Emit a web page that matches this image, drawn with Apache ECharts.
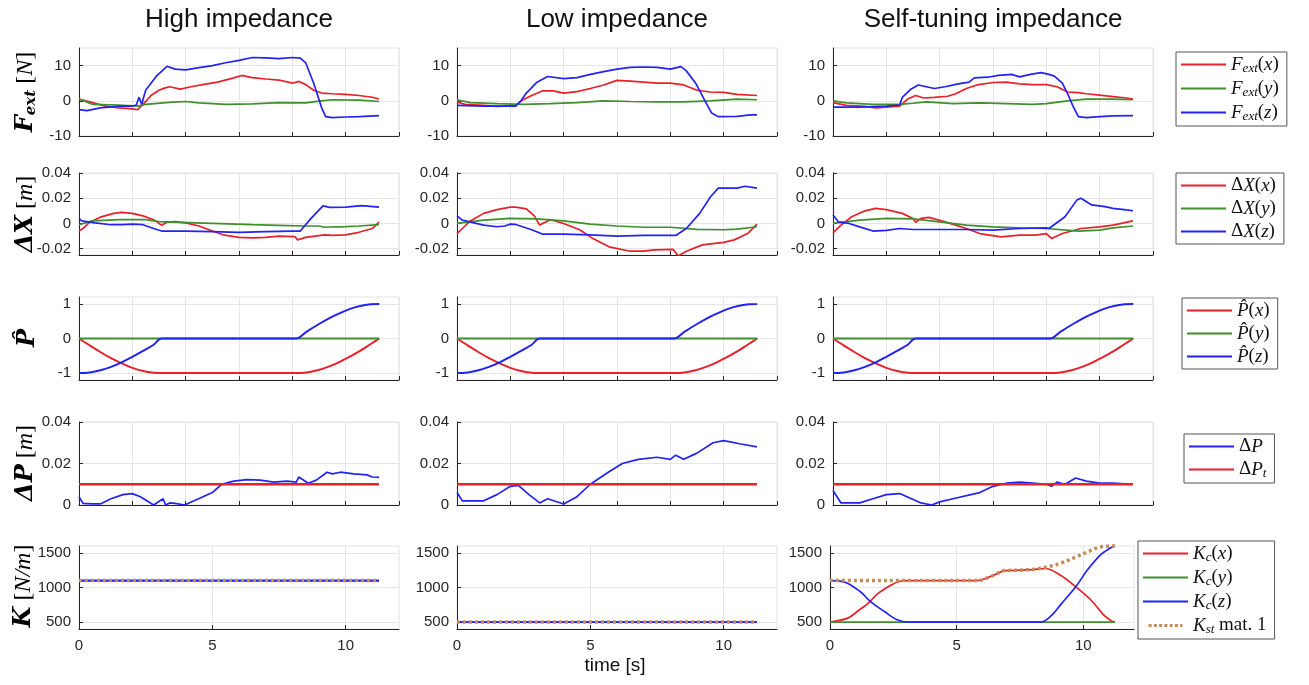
<!DOCTYPE html>
<html>
<head>
<meta charset="utf-8">
<script src="https://cdn.jsdelivr.net/npm/echarts@6/dist/echarts.min.js"></script>
<style>
  html, body { margin: 0; background: #fff; }
  #main { width: 1309px; height: 685px; }
</style>
</head>
<body>
<div id="main"></div>
<script>
// ---- data: [time s, value] ----
// external force F_ext [N]
const hiFx = [[0,0.5],[0.5,-0.5],[1.0,-1.5],[1.5,-2.0],[2.0,-2.3],[2.2,-2.5],[2.4,-1.0],[2.7,1.5],[3.0,3.0],[3.2,3.6],[3.4,4.0],[3.8,3.3],[4.2,4.0],[4.8,4.8],[5.2,5.3],[5.8,6.5],[6.1,7.2],[6.5,6.6],[7.0,6.2],[7.5,5.9],[8.0,5.0],[8.25,5.5],[8.5,4.6],[8.8,3.0],[9.1,2.2],[9.5,2.0],[10.0,1.8],[10.5,1.5],[11.0,1.0],[11.25,0.5]];
const hiFy = [[0,0.5],[0.5,-1.0],[1.5,-1.2],[2.2,-1.5],[2.5,-1.0],[3.5,-0.4],[4.0,-0.2],[4.5,-0.6],[5.5,-1.0],[6.5,-0.9],[7.5,-0.5],[8.5,-0.6],[9.0,-0.1],[9.5,0.3],[10.5,0.2],[11.25,-0.2]];
const hiFz = [[0,-2.5],[0.3,-2.8],[0.8,-2.0],[1.5,-1.5],[2.0,-1.5],[2.15,-1.2],[2.25,1.0],[2.35,-1.0],[2.5,3.0],[2.9,7.0],[3.3,9.8],[3.6,9.0],[4.0,8.8],[4.5,9.4],[5.0,10.0],[5.5,10.8],[6.0,11.5],[6.5,12.3],[7.0,12.2],[7.5,12.0],[8.0,12.3],[8.3,12.1],[8.5,10.8],[8.8,5.0],[9.1,-2.0],[9.25,-4.5],[9.5,-4.8],[10.0,-4.6],[10.5,-4.5],[11.25,-4.2]];
const loFx = [[0,-0.3],[0.3,-1.0],[1.0,-1.3],[1.5,-1.6],[2.2,-1.3],[2.4,0],[2.8,1.5],[3.2,2.8],[3.6,2.8],[4.0,2.2],[4.5,2.6],[5.0,3.5],[5.5,4.5],[6.0,5.8],[6.5,5.6],[7.0,5.3],[7.5,5.0],[8.0,5.0],[8.5,4.5],[9.0,3.0],[9.5,2.5],[10.0,2.4],[10.5,1.8],[11.25,1.5]];
const loFy = [[0,0.3],[0.5,-0.5],[1.5,-0.8],[2.5,-1.0],[3.5,-0.8],[4.5,-0.5],[5.5,0],[6.5,-0.2],[7.5,-0.3],[8.5,-0.3],[9.5,0],[10.5,0.5],[11.25,0.3]];
const loFz = [[0,-1.3],[1.0,-1.5],[2.2,-1.5],[2.4,0],[2.6,2.2],[3.0,5.3],[3.4,6.9],[4.0,6.3],[4.5,6.6],[5.0,7.5],[5.5,8.3],[6.0,9.0],[6.5,9.5],[7.0,9.6],[7.5,9.5],[8.0,9.0],[8.4,9.7],[8.6,8.5],[8.95,5.0],[9.3,0],[9.55,-3.5],[9.8,-4.5],[10.5,-4.4],[11.0,-4.0],[11.25,-4.0]];
const stFx = [[0,-0.5],[0.5,-1.3],[1.2,-1.6],[1.6,-2.0],[2.0,-1.8],[2.5,-1.5],[2.8,0.5],[3.1,1.5],[3.4,0.8],[3.8,1.0],[4.3,1.3],[4.6,2.0],[5.0,3.5],[5.4,4.5],[6.0,5.2],[6.5,5.3],[7.0,4.8],[7.5,4.6],[8.0,4.6],[8.4,4.0],[8.8,2.5],[9.2,2.3],[9.5,2.0],[10.0,1.6],[10.5,1.2],[11.0,0.8],[11.25,0.5]];
const stFy = [[0,0],[0.5,-0.6],[1.5,-1.0],[2.5,-1.0],[3.0,-0.7],[3.5,-0.3],[4.5,-0.8],[5.5,-0.6],[6.5,-0.8],[7.5,-1.0],[8.0,-0.8],[8.8,0],[9.5,0.5],[10.5,0.5],[11.25,0.3]];
const stFz = [[0,-1.8],[1.0,-1.8],[2.0,-1.5],[2.5,-1.2],[2.6,1.0],[2.9,3.2],[3.2,4.5],[3.5,4.0],[3.8,3.5],[4.2,4.0],[4.7,4.8],[5.1,5.3],[5.3,6.5],[5.8,6.7],[6.2,7.2],[6.7,7.5],[7.0,6.8],[7.4,7.5],[7.8,8.0],[8.1,7.5],[8.3,7.0],[8.6,5.0],[8.8,2.0],[9.0,-1.5],[9.2,-4.5],[9.5,-4.8],[10.0,-4.5],[10.5,-4.3],[11.25,-4.2]];

// position error dX [m]
const hiXx = [[0,-0.006],[0.15,-0.004],[0.4,0.001],[0.8,0.005],[1.3,0.008],[1.6,0.0088],[2.0,0.008],[2.4,0.006],[2.8,0.003],[3.1,-0.0015],[3.15,-0.002],[3.3,0.001],[3.6,0.0015],[4.0,0.0005],[4.5,-0.002],[5.0,-0.006],[5.4,-0.009],[6.0,-0.011],[6.5,-0.0115],[7.0,-0.011],[7.5,-0.010],[8.1,-0.0105],[8.2,-0.013],[8.5,-0.011],[9.2,-0.009],[9.5,-0.0095],[10.0,-0.009],[10.5,-0.007],[11.0,-0.004],[11.25,0.001]];
const hiXy = [[0,-0.001],[0.5,0.002],[1.5,0.003],[2.5,0.003],[3.0,0.0015],[3.5,0.001],[5.0,0],[6.5,-0.001],[7.5,-0.0015],[8.5,-0.002],[9.0,-0.002],[9.2,-0.003],[10.0,-0.0025],[10.5,-0.002],[11.25,-0.001]];
const hiXz = [[0,0.004],[0.1,0.002],[0.6,0.0005],[1.2,-0.001],[1.6,-0.001],[2.0,-0.0005],[2.4,-0.001],[2.8,-0.004],[3.1,-0.006],[4.0,-0.006],[5.0,-0.0065],[6.0,-0.007],[7.0,-0.0065],[8.0,-0.006],[8.3,-0.006],[8.7,0.004],[9.15,0.014],[9.4,0.0128],[10.0,0.013],[10.6,0.0142],[11.25,0.013]];
const loXx = [[0,-0.008],[0.25,-0.003],[0.5,0.002],[1.0,0.008],[1.5,0.011],[2.0,0.013],[2.2,0.013],[2.6,0.0115],[2.9,0.006],[3.1,-0.0013],[3.5,0.003],[4.0,0],[4.6,-0.005],[5.1,-0.012],[5.7,-0.0185],[6.5,-0.022],[7.0,-0.022],[7.4,-0.021],[8.1,-0.0205],[8.3,-0.0258],[8.6,-0.022],[9.2,-0.017],[10.0,-0.015],[10.4,-0.013],[10.9,-0.008],[11.25,-0.0005]];
const loXy = [[0,0],[1,0.0026],[2,0.004],[3,0.0037],[4,0.002],[5,-0.0005],[6,-0.002],[7,-0.003],[8,-0.003],[9,-0.0047],[10,-0.005],[10.5,-0.0045],[11.25,-0.0026]];
const loXz = [[0,0.006],[0.2,0.0026],[1.0,-0.0013],[1.5,-0.0026],[1.8,-0.002],[2.0,-0.0005],[2.2,-0.0008],[2.8,-0.005],[3.2,-0.0084],[4.0,-0.0084],[5.0,-0.009],[6.0,-0.010],[7.0,-0.0095],[8.2,-0.0095],[8.6,-0.004],[9.1,0.008],[9.5,0.021],[9.8,0.028],[10.5,0.028],[10.8,0.0295],[11.25,0.028]];
const stXx = [[0,-0.0075],[0.3,-0.0013],[0.7,0.0053],[1.2,0.010],[1.6,0.012],[2.0,0.011],[2.6,0.008],[3.0,0.004],[3.1,0.001],[3.3,0.004],[3.6,0.0048],[4.2,0.0013],[5.0,-0.004],[5.5,-0.008],[6.3,-0.0107],[7.0,-0.0093],[7.6,-0.0093],[8.0,-0.008],[8.2,-0.012],[8.6,-0.008],[9.3,-0.004],[10.0,-0.0027],[10.5,-0.0013],[11.25,0.002]];
const stXy = [[0,0],[1,0.0027],[2,0.004],[3,0.0037],[4,0.0013],[5,-0.0013],[6,-0.0027],[7,-0.0035],[8,-0.004],[9.2,-0.006],[10,-0.0053],[10.5,-0.0035],[11.25,-0.002]];
const stXz = [[0,0.0067],[0.2,0.0013],[0.6,0],[1.0,-0.0027],[1.5,-0.006],[2.0,-0.0055],[2.5,-0.004],[3.0,-0.0048],[5.0,-0.0048],[6.0,-0.0053],[7.0,-0.004],[8.0,-0.0035],[8.1,-0.004],[8.7,0.0053],[9.15,0.0187],[9.3,0.020],[9.7,0.0147],[10.2,0.0133],[10.5,0.012],[11.0,0.0107],[11.25,0.0101]];

// estimated direction P-hat (same in all three runs)
const pHatX = [[0,0],[0.4,-0.2],[0.8,-0.39],[1.2,-0.57],[1.6,-0.72],[2.0,-0.85],[2.4,-0.94],[2.8,-0.99],[3.1,-1],[8.14,-1],[8.54,-0.98],[8.94,-0.92],[9.34,-0.82],[9.74,-0.69],[10.14,-0.53],[10.54,-0.36],[10.94,-0.16],[11.26,0]];
const pHatY = [[0,0],[11.26,0]];
const pHatZ = [[0,-1],[0.4,-0.98],[0.8,-0.92],[1.2,-0.82],[1.6,-0.69],[2.0,-0.53],[2.4,-0.36],[2.8,-0.18],[3.1,0],[8.14,0],[8.54,0.2],[8.94,0.39],[9.34,0.57],[9.74,0.72],[10.14,0.85],[10.54,0.94],[10.94,0.99],[11.26,1]];

// dP [m] and threshold dP_t
const hiDP = [[0,0.004],[0.15,0.0008],[0.5,0.0005],[0.8,0.0005],[1.2,0.003],[1.65,0.005],[2.0,0.0055],[2.3,0.004],[2.8,0],[3.15,0.003],[3.25,0],[3.4,0.001],[3.6,0.0008],[3.96,0],[4.65,0.004],[5.0,0.006],[5.35,0.01],[5.8,0.0115],[6.3,0.0122],[6.8,0.012],[7.3,0.011],[7.8,0.0115],[8.15,0.011],[8.24,0.0135],[8.6,0.0105],[8.9,0.012],[9.3,0.0158],[9.5,0.015],[9.8,0.0158],[10.3,0.015],[10.8,0.0145],[11.0,0.0135],[11.25,0.0133]];
const loDP = [[0,0.006],[0.2,0.002],[1.0,0.002],[1.5,0.005],[2.0,0.009],[2.3,0.0095],[2.7,0.005],[3.1,0.001],[3.4,0.003],[4.0,0.0005],[4.5,0.004],[5.0,0.010],[5.7,0.016],[6.2,0.020],[6.8,0.022],[7.5,0.023],[8.0,0.022],[8.2,0.024],[8.5,0.022],[9.0,0.025],[9.6,0.030],[10.0,0.031],[10.6,0.0295],[11.25,0.028]];
const stDP = [[0,0.007],[0.3,0.001],[1.0,0.001],[1.5,0.003],[2.0,0.005],[2.5,0.0055],[3.3,0.001],[3.7,0],[4.0,0.0015],[4.5,0.003],[5.5,0.006],[6.0,0.009],[6.5,0.0105],[7.0,0.011],[7.5,0.0105],[8.0,0.010],[8.2,0.009],[8.4,0.011],[8.7,0.010],[9.1,0.013],[9.5,0.0115],[10.0,0.0105],[10.5,0.0105],[11.25,0.010]];
const dPt = [[0,0.01],[11.25,0.01]];

// stiffness K [N/m]
const hiK = [[0,1100],[11.25,1100]];
const loK = [[0,500],[11.25,500]];
const stKx = [[0,500],[0.7,557],[1.1,660],[1.5,771],[1.9,914],[2.4,1033],[2.75,1090],[3.1,1100],[5.8,1100],[6.45,1176],[6.9,1245],[7.5,1250],[8.0,1258],[8.5,1275],[9.1,1176],[9.7,1010],[10.3,819],[10.8,605],[11.1,520],[11.25,500]];
const stKy = [[0,500],[11.25,500]];
const stKz = [[0,1100],[0.55,1081],[1.2,938],[1.6,795],[2.15,652],[2.65,533],[3.1,500],[8.3,500],[8.7,581],[9.15,771],[9.7,1010],[10.15,1248],[10.65,1462],[11.0,1557],[11.25,1600]];
const stKst = [[0,1100],[5.8,1100],[6.45,1176],[6.9,1245],[7.5,1250],[8.2,1270],[8.6,1300],[9.1,1350],[9.7,1440],[10.2,1520],[10.6,1580],[11.0,1600],[11.25,1605]];

const colTitles = ['High impedance', 'Low impedance', 'Self-tuning impedance'];

const RED = '#e8202a', GREEN = '#3f8f2c', BLUE = '#2222f5', BROWN = '#c48d55';

// rows of the figure: y range, y ticks, series (name, colour) and data per column
const rows = [
  { min: -10, max: 15, ticks: [-10, 0, 10], names: ['Fx', 'Fy', 'Fz'], colors: [RED, GREEN, BLUE],
    data: [[hiFx, hiFy, hiFz], [loFx, loFy, loFz], [stFx, stFy, stFz]] },
  { min: -0.025, max: 0.04, ticks: [-0.02, 0, 0.02, 0.04], names: ['Xx', 'Xy', 'Xz'], colors: [RED, GREEN, BLUE],
    data: [[hiXx, hiXy, hiXz], [loXx, loXy, loXz], [stXx, stXy, stXz]] },
  { min: -1.2, max: 1.2, ticks: [-1, 0, 1], names: ['Px', 'Py', 'Pz'], colors: [RED, GREEN, BLUE], smooth: true, width: 2,
    data: [[pHatX, pHatY, pHatZ], [pHatX, pHatY, pHatZ], [pHatX, pHatY, pHatZ]] },
  { min: 0, max: 0.04, ticks: [0, 0.02, 0.04], names: ['dP', 'dPt'], colors: [BLUE, RED],
    data: [[hiDP, dPt], [loDP, dPt], [stDP, dPt]] },
  { min: 400, max: 1600, ticks: [500, 1000, 1500], names: ['Kx', 'Ky', 'Kz', 'Kst'], colors: [RED, GREEN, BLUE, BROWN], smooth: true,
    data: [[hiK, hiK, hiK, hiK], [loK, loK, loK, loK], [stKx, stKy, stKz, stKst]] }
];

const legendText = {
  Fx: '{i|F}{s|ext}{n|(}{i|x}{n|)}', Fy: '{i|F}{s|ext}{n|(}{i|y}{n|)}', Fz: '{i|F}{s|ext}{n|(}{i|z}{n|)}',
  Xx: '{n|Δ}{i|X}{n|(}{i|x}{n|)}', Xy: '{n|Δ}{i|X}{n|(}{i|y}{n|)}', Xz: '{n|Δ}{i|X}{n|(}{i|z}{n|)}',
  Px: '{i|P̂}{n|(}{i|x}{n|)}', Py: '{i|P̂}{n|(}{i|y}{n|)}', Pz: '{i|P̂}{n|(}{i|z}{n|)}',
  dP: '{n|Δ}{i|P}', dPt: '{n|Δ}{i|P}{s|t}',
  Kx: '{i|K}{s|c}{n|(}{i|x}{n|)}', Ky: '{i|K}{s|c}{n|(}{i|y}{n|)}', Kz: '{i|K}{s|c}{n|(}{i|z}{n|)}',
  Kst: '{i|K}{s|st}{n| mat. 1}'
};
const legendPos = [[1176, 52], [1176, 173], [1182, 298], [1184, 434], [1138, 541]];

// legend keys: a plain bar, or a row of dots for the dotted K_st line
const solidIcon = 'path://M0,0H45V2H0Z';
const dotIcon = 'path://M0,0h4v4h-4z M7,0h4v4h-4z M14,0h4v4h-4z M21,0h4v4h-4z M28,0h4v4h-4z M35,0h4v4h-4z M42,0h3v4h-3z';

const colLeft = [79, 457, 833];
const rowTop = [48, 173, 297, 422, 546];
const rowH = [88, 82, 83, 83, 83];
const INK = '#262626';

const grids = [], xAxes = [], yAxes = [], series = [];
rows.forEach((row, r) => {
  for (let c = 0; c < 3; c++) {
    const g = r * 3 + c;
    let left = colLeft[c], width = 320;
    if (r === 4 && c === 2) { left = 830; width = 304; }   // legend is wider there
    grids.push({ left: left, top: rowTop[r], width: width, height: rowH[r],
      show: true, borderColor: '#e2e2e2', borderWidth: 1 });
    const last = r === 4;
    xAxes.push({
      type: 'value', gridIndex: g, min: 0, max: 12,
      axisLine: { show: true, onZero: false, lineStyle: { color: INK } },
      axisTick: { show: true, inside: true, length: 4, lineStyle: { color: INK },
        customValues: last ? [0, 5, 10] : [0, 2, 4, 6, 8, 10, 12] },
      axisLabel: { show: last, customValues: [0, 5, 10], color: INK, fontSize: 15,
        fontFamily: 'Liberation Sans', margin: 9, formatter: v => String(v) },
      splitLine: { show: true, lineStyle: { color: '#e6e6e6' } }
    });
    yAxes.push({
      type: 'value', gridIndex: g, min: row.min, max: row.max,
      axisLine: { show: true, onZero: false, lineStyle: { color: INK } },
      axisTick: { show: true, inside: true, length: 4, lineStyle: { color: INK }, customValues: row.ticks },
      axisLabel: { customValues: row.ticks, color: INK, fontSize: 15, fontFamily: 'Liberation Sans',
        margin: 8, formatter: v => String(v) },
      splitLine: { show: true, lineStyle: { color: '#e6e6e6' } }
    });
    row.names.forEach((name, k) => {
      const isKst = name === 'Kst';
      let w = row.width || 1.7;
      if (name === 'dPt') w = 2.5;
      if (isKst) w = 3.5;
      series.push({
        type: 'line', name: name, xAxisIndex: g, yAxisIndex: g,
        data: row.data[c][k], symbol: 'none', silent: true,
        smooth: row.smooth ? 0.35 : false,
        lineStyle: { color: row.colors[k], width: w, type: isKst ? [3, 3] : 'solid' },
        itemStyle: { color: row.colors[k] },
        z: isKst ? 5 : 2
      });
    });
  }
});

const richLegend = {
  i: { fontFamily: 'Liberation Serif', fontStyle: 'italic', fontSize: 19, color: '#111' },
  s: { fontFamily: 'Liberation Serif', fontStyle: 'italic', fontSize: 13, color: '#111', padding: [8, 0, 0, 0] },
  n: { fontFamily: 'Liberation Serif', fontSize: 19, color: '#111' }
};

const legends = rows.map((row, r) => ({
  orient: 'vertical', left: legendPos[r][0], top: legendPos[r][1],
  data: row.names.map(n => ({ name: n, icon: n === 'Kst' ? dotIcon : solidIcon })),
  selectedMode: false,
  itemWidth: 45, itemHeight: 3, itemGap: 4,
  borderColor: '#555', borderWidth: 1, backgroundColor: '#fff',
  padding: [3, 8, 3, 5],
  formatter: n => legendText[n],
  textStyle: { rich: richLegend }
}));

const richAxisName = {
  b: { fontFamily: 'DejaVu Serif', fontStyle: 'italic', fontWeight: 'bold', fontSize: 24, color: '#111' },
  bs: { fontFamily: 'DejaVu Serif', fontStyle: 'italic', fontWeight: 'bold', fontSize: 15, color: '#111', padding: [10, 0, 0, 0] },
  n: { fontFamily: 'Liberation Serif', fontSize: 24, color: '#111' },
  i: { fontFamily: 'Liberation Serif', fontStyle: 'italic', fontSize: 24, color: '#111' }
};
const axisNames = [
  ['{b|F}{bs|ext}{n| [}{i|N}{n|]}', 26, 92],
  ['{b|ΔX}{n| [}{i|m}{n|]}', 26, 214],
  ['{b|P̂}', 28, 338],
  ['{b|ΔP}{n| [}{i|m}{n|]}', 26, 463],
  ['{b|K}{n| [}{i|N/m}{n|]}', 24, 586]
];

const graphics = [];
colTitles.forEach((t, c) => {
  const left = colLeft[c];
  graphics.push({ type: 'text', x: left + 160, y: 20,
    style: { text: t, fontFamily: 'Liberation Sans', fontSize: 26, fill: '#111', align: 'center', verticalAlign: 'middle' } });
});
axisNames.forEach(a => {
  graphics.push({ type: 'text', x: a[1], y: a[2], rotation: Math.PI / 2,
    style: { text: a[0], rich: richAxisName, align: 'center', verticalAlign: 'middle' } });
});
graphics.push({ type: 'text', x: 615, y: 666,
  style: { text: 'time [s]', fontFamily: 'Liberation Sans', fontSize: 19, fill: '#111', align: 'center', verticalAlign: 'middle' } });

const chart = echarts.init(document.getElementById('main'), null, { renderer: 'canvas' });
chart.setOption({
  animation: false,
  backgroundColor: '#fff',
  grid: grids,
  xAxis: xAxes,
  yAxis: yAxes,
  legend: legends,
  graphic: graphics,
  series: series
});
</script>
</body>
</html>
